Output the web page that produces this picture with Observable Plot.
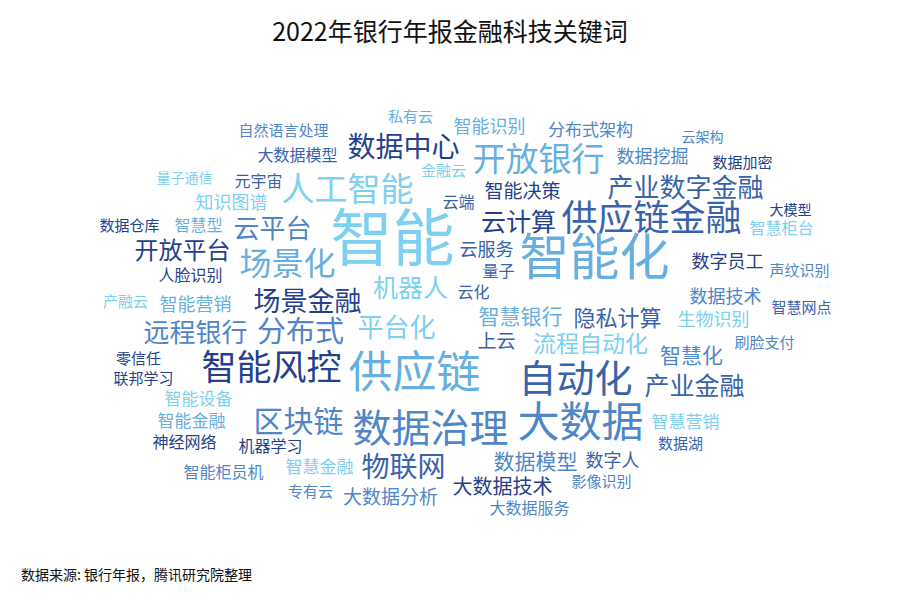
<!DOCTYPE html>
<html>
<head>
<meta charset="utf-8">
<script src="https://cdn.jsdelivr.net/npm/d3@7"></script>
<script src="https://cdn.jsdelivr.net/npm/@observablehq/plot@0.6"></script>
<style>
  html, body { margin: 0; padding: 0; background: #fff; }
  body { width: 900px; height: 600px; position: relative; font-family: "Noto Sans CJK SC", "Noto Sans", sans-serif; }
  #title { position: absolute; left: 0; top: 0; width: 900px; height: 60px; line-height: 60px; text-align: center; font-size: 25px; color: #111; }
  #chart { position: absolute; left: 0; top: 65px; }
  #caption { position: absolute; left: 21px; top: 564px; font-size: 14px; color: #111; }
</style>
</head>
<body>
<div id="title">2022年银行年报金融科技关键词</div>
<div id="chart"></div>
<div id="caption">数据来源: 银行年报，腾讯研究院整理</div>
<script>
// Keywords with layout position (x, y), weight (font size) and tone group
const words = ["私有云","智能识别","分布式架构","云架构","自然语言处理","数据中心","开放银行","大数据模型","数据挖掘","数据加密",
  "量子通信","元宇宙","人工智能","金融云","智能决策","产业数字金融","知识图谱","云端","数据仓库","智慧型",
  "云平台","智能","云计算","供应链金融","大模型","智慧柜台","开放平台","场景化","云服务","智能化",
  "数字员工","人脸识别","量子","声纹识别","机器人","云化","数据技术","产融云","智能营销","场景金融",
  "智慧网点","智慧银行","隐私计算","生物识别","远程银行","分布式","平台化","上云","流程自动化","刷脸支付",
  "智慧化","零信任","智能风控","供应链","自动化","联邦学习","产业金融","智能设备","智能金融","区块链",
  "数据治理","大数据","智慧营销","神经网络","机器学习","数据湖","物联网","数据模型","数字人","智能柜员机",
  "智慧金融","大数据技术","影像识别","专有云","大数据分析","大数据服务"];
const xs = [410,489,590,702,283,403,538,297,652,742,
  184,258,347,443,522,685,231,458,129,198,
  272,392,518,651,790,781,182,287,486,594,
  727,190,498,799,410,473,725,125,195,307,
  801,520,617,713,195,300,396,496,590,764,
  691,138,271,414,575,143,694,198,191,298,
  430,580,685,184,270,680,403,535,612,223,
  319,502,601,310,390,529];
const ys = [116,126,129,136,130,146,158,155,156,162,
  177,181,188,170,190,187,202,202,225,225,
  228,238,221,217,209,228,250,263,249,256,
  261,275,271,270,287,292,296,301,304,300,
  307,316,317,319,332,331,327,340,343,342,
  355,358,367,371,377,378,385,398,420,420,
  427,421,421,442,446,443,466,461,460,472,
  466,486,481,491,496,508];
const sizes = [15,18,17,14,15,28,33,16,18,15,
  14,16,33,15,19,26,18,16,15,16,
  26,62,25,36,14,16,24,32,18,50,
  18,16,16,15,25,16,18,15,18,27,
  15,21,22,18,26,29,26,19,23,15,
  21,15,35,44,38,15,25,17,17,30,
  39,42,17,16,16,15,28,21,18,16,
  17,20,15,15,19,16];
const tones = ["B","B","C","C","C","E","B","D","C","E",
  "A","D","A","A","E","D","A","D","E","B",
  "C","A","E","D","E","A","E","B","D","B",
  "E","E","D","C","A","D","C","A","B","E",
  "D","B","D","A","C","C","A","D","A","C",
  "C","E","E","B","D","E","D","A","B","C",
  "C","C","A","E","E","D","D","C","D","C",
  "A","E","C","C","C","C"];
const toneNames = ["A","B","C","D","E"];
const toneColors = ["#7dd0f0","#67afe0","#4f86c6","#3a62ab","#253f8c"];

const data = words.map((w, i) => ({word: w, x: xs[i], y: ys[i], size: sizes[i], tone: tones[i]}));

const chart = Plot.plot({
  width: 900,
  height: 470,
  margin: 0,
  x: {domain: [0, 900], range: [0, 900], axis: null},
  y: {domain: [65, 535], range: [0, 470], axis: null},
  color: {type: "ordinal", domain: toneNames, range: toneColors},
  style: {fontFamily: '"Noto Sans CJK SC", "Noto Sans", sans-serif', background: "white"},
  marks: [
    Plot.text(data, {
      x: "x",
      y: "y",
      text: "word",
      fill: "tone",
      fontSize: d => d.size,
      textAnchor: "middle",
      lineAnchor: "middle",
      fontFamily: '"Noto Sans CJK SC", sans-serif'
    })
  ]
});
// center CJK ideographs vertically on their anchor
d3.select(chart).selectAll("text").filter(function() { return this.getAttribute("y") === "0.32em"; }).attr("y", "0.37em");
document.getElementById("chart").appendChild(chart);
</script>
</body>
</html>
